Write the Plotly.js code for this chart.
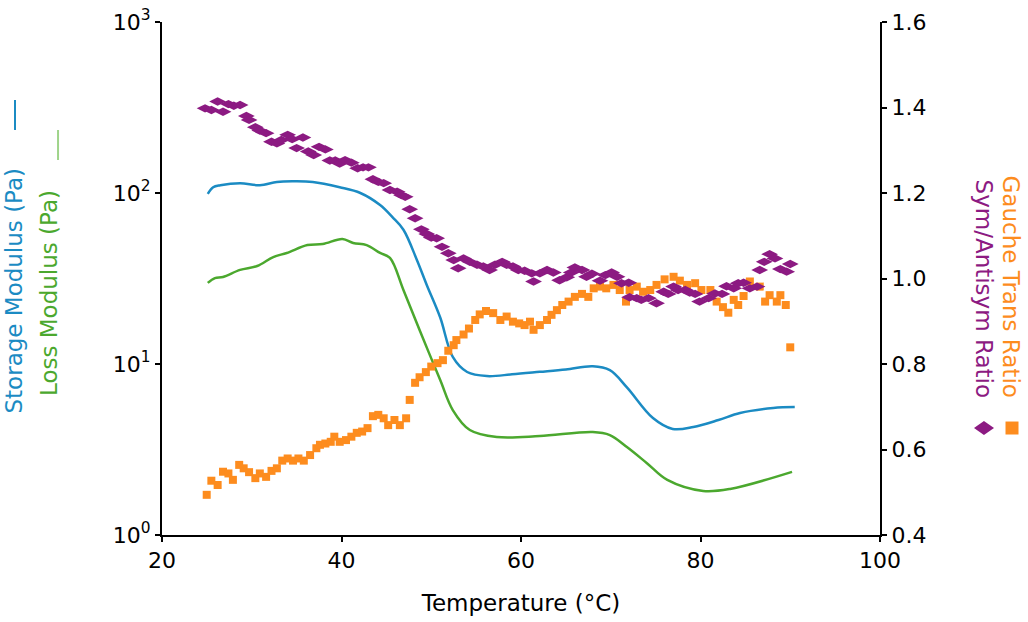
<!DOCTYPE html>
<html>
<head>
<meta charset="utf-8">
<script src="https://cdn.plot.ly/plotly-3.0.1.min.js"></script>
<style>html,body{margin:0;padding:0;background:#fff;}#chart{width:1028px;height:622px;}</style>
</head>
<body>
<div id="chart"></div>
<script>
// Storage modulus (Pa)
const storageT = [25.1,25.7,26.5,28.7,30.9,32.8,34.6,36.8,39.8,42.1,44.3,45.7,46.9,48.4,49.5,51.0,52.4,54.0,56.2,59.0,62.1,65.0,68.0,69.9,71.8,74.7,76.9,79.2,82.0,84.4,88.1,90.5];
const storageV = [98.7,108,111,114,111,116,117,116,108,100,85,72,61,40.6,29,18.7,11.0,8.98,8.5,8.7,9.0,9.3,9.7,9.2,7.3,4.83,4.17,4.28,4.7,5.17,5.53,5.6];
// Loss modulus (Pa)
const lossT = [25.1,25.9,26.8,28.7,30.6,32.4,33.9,36.2,37.9,40.1,41.3,42.8,44.3,45.4,46.9,48.7,51.0,52.4,54.3,57.3,62.1,68.0,69.9,71.8,74.0,76.3,80.3,83.3,90.2];
const lossV = [29.8,31.8,32.3,35.5,37.4,42.2,44.6,49.6,50.3,53.8,51.0,49.6,44.6,41.7,27.1,15.8,8.06,5.38,4.11,3.74,3.79,4.0,3.84,3.27,2.64,2.10,1.81,1.86,2.34];
// Gauche trans ratio
const gaucheT = [24.98,25.5,26.2,26.8,27.4,27.9,28.6,29.1,29.7,30.4,30.9,31.6,32.2,32.8,33.4,34.0,34.6,35.2,35.8,36.5,37.2,37.6,38.2,38.8,39.2,39.8,40.5,41.1,41.7,42.3,42.9,43.5,44.1,44.7,45.2,45.9,46.5,47.2,47.6,48.2,48.7,49.4,50.0,50.7,51.3,51.9,52.5,52.8,53.6,54.2,54.9,55.4,56.1,56.9,57.7,58.4,59.1,59.8,60.4,61.0,61.4,62.1,62.9,63.4,64.0,64.6,65.3,66.0,66.8,67.5,68.1,68.8,69.5,70.3,71.0,71.7,72.1,72.9,73.6,74.4,75.1,76.0,77.0,77.7,78.5,79.4,80.1,81.1,81.8,82.5,83.1,83.7,84.2,84.8,85.5,86.6,87.2,87.7,88.5,88.9,89.5,90.0];
const gaucheV = [0.494,0.527,0.517,0.548,0.544,0.529,0.564,0.556,0.547,0.533,0.544,0.536,0.550,0.556,0.574,0.579,0.574,0.579,0.574,0.587,0.603,0.611,0.614,0.618,0.630,0.618,0.622,0.630,0.639,0.642,0.650,0.678,0.681,0.673,0.657,0.669,0.657,0.673,0.716,0.756,0.769,0.781,0.794,0.802,0.809,0.831,0.844,0.856,0.869,0.883,0.903,0.916,0.924,0.919,0.903,0.911,0.899,0.895,0.891,0.899,0.880,0.891,0.903,0.915,0.926,0.938,0.946,0.957,0.964,0.957,0.977,0.981,0.977,0.985,0.973,0.946,0.973,0.981,0.969,0.973,0.985,0.998,1.004,0.995,0.985,0.989,0.973,0.973,0.946,0.933,0.920,0.950,0.938,0.959,0.993,0.981,0.946,0.961,0.946,0.961,0.938,0.839];
// Sym/Antisym ratio
const symT = [24.8,25.5,26.2,26.8,27.4,28.0,28.7,29.4,29.7,30.4,30.9,31.6,32.2,32.8,33.3,34.0,34.5,35.0,35.7,36.3,36.9,37.5,38.2,38.7,39.3,39.8,40.4,41.1,41.8,42.4,43.0,43.5,44.1,44.7,45.4,46.2,46.7,47.1,47.6,48.2,48.9,49.5,50.0,50.6,51.2,51.9,52.5,53.0,53.6,54.3,55.1,55.8,56.5,57.1,57.9,58.4,59.1,59.7,60.4,61.2,61.4,62.1,62.9,63.6,64.3,65.1,65.6,66.0,66.8,67.3,67.9,68.8,69.4,70.1,70.7,71.2,72.0,72.1,72.9,73.4,74.2,75.1,75.9,76.4,77.0,77.5,78.3,78.8,79.4,79.9,80.9,81.6,82.4,82.9,83.7,84.2,84.8,85.5,86.3,86.6,87.1,87.7,88.3,88.9,89.6,90.0];
const symV = [1.398,1.394,1.414,1.390,1.408,1.404,1.406,1.380,1.371,1.354,1.346,1.340,1.320,1.316,1.324,1.336,1.326,1.305,1.330,1.297,1.289,1.308,1.302,1.276,1.276,1.269,1.277,1.271,1.258,1.260,1.260,1.232,1.226,1.223,1.207,1.203,1.195,1.191,1.162,1.141,1.115,1.104,1.096,1.094,1.074,1.059,1.043,1.024,1.047,1.039,1.032,1.028,1.020,1.032,1.039,1.032,1.028,1.020,1.018,1.012,0.993,1.012,1.020,1.014,0.996,1.003,1.014,1.026,1.020,1.004,1.011,0.995,1.008,1.014,1.004,0.989,0.990,0.956,0.954,0.950,0.954,0.942,0.969,0.964,0.981,0.973,0.973,0.967,0.964,0.946,0.954,0.965,0.964,0.982,0.977,0.989,0.990,0.977,0.981,1.020,1.039,1.057,1.047,1.022,1.016,1.034];

const xTicks = [20,40,60,80,100];
const yLeftTicks = [1,10,100,1000];
const yLeftLabels = ['10<sup>0</sup>','10<sup>1</sup>','10<sup>2</sup>','10<sup>3</sup>'];
const yRightTicks = [0.4,0.6,0.8,1.0,1.2,1.4,1.6];

const BLUE = '#1b8bc3', GREEN = '#4ba82e', LGREEN = '#9fd48a', PURPLE = '#8c1a82', ORANGE = '#fd8c1e';
const FONT = 'DejaVu Sans, Arial, sans-serif';

const traces = [
  {x: gaucheT, y: gaucheV, yaxis: 'y2', mode: 'markers', type: 'scatter',
   marker: {symbol: 'square', size: 8, color: ORANGE}},
  {x: symT, y: symV, yaxis: 'y2', mode: 'markers', type: 'scatter',
   marker: {symbol: 'diamond-wide', size: 12, color: PURPLE}},
  {x: storageT, y: storageV, mode: 'lines', type: 'scatter',
   line: {color: BLUE, width: 2.5, shape: 'spline', smoothing: 1}},
  {x: lossT, y: lossV, mode: 'lines', type: 'scatter',
   line: {color: GREEN, width: 2.5, shape: 'spline', smoothing: 1}}
];

const axCommon = {showgrid: false, zeroline: false, showline: true, linecolor: '#000', linewidth: 2,
  ticks: 'outside', ticklen: 5, tickwidth: 2, tickcolor: '#000',
  tickfont: {family: FONT, size: 22, color: '#000'}};

const layout = {
  width: 1028, height: 622,
  margin: {l: 162, r: 148, t: 22, b: 87},
  paper_bgcolor: '#fff', plot_bgcolor: '#fff',
  showlegend: false,
  font: {family: FONT},
  xaxis: Object.assign({}, axCommon, {range: [20,100], tickvals: xTicks,
    title: {text: 'Temperature (°C)', font: {family: FONT, size: 23, color: '#000'}, standoff: 22}}),
  yaxis: Object.assign({}, axCommon, {type: 'log', range: [0,3], tickvals: yLeftTicks, ticktext: yLeftLabels}),
  yaxis2: Object.assign({}, axCommon, {overlaying: 'y', side: 'right', anchor: 'x', range: [0.4,1.6],
    tickvals: yRightTicks, tickformat: '.1f'}),
  annotations: [
    {xref: 'paper', yref: 'paper', x: -0.2075, y: 0.4766, text: 'Storage Modulus (Pa)', textangle: -90,
     showarrow: false, xanchor: 'center', yanchor: 'middle', font: {family: FONT, size: 23, color: BLUE}},
    {xref: 'paper', yref: 'paper', x: -0.1574, y: 0.4717, text: 'Loss Modulus (Pa)', textangle: -90,
     showarrow: false, xanchor: 'center', yanchor: 'middle', font: {family: FONT, size: 23, color: GREEN}},
    {xref: 'paper', yref: 'paper', x: 1.1838, y: 0.4844, text: 'Gauche Trans Ratio', textangle: 90,
     showarrow: false, xanchor: 'center', yanchor: 'middle', font: {family: FONT, size: 23, color: ORANGE}},
    {xref: 'paper', yref: 'paper', x: 1.1462, y: 0.4805, text: 'Sym/Antisym Ratio', textangle: 90,
     showarrow: false, xanchor: 'center', yanchor: 'middle', font: {family: FONT, size: 23, color: PURPLE}}
  ],
  shapes: [
    {type: 'line', xref: 'paper', yref: 'paper', x0: -0.2047, x1: -0.2047, y0: 0.848, y1: 0.7895,
     line: {color: BLUE, width: 2}},
    {type: 'line', xref: 'paper', yref: 'paper', x0: -0.1448, x1: -0.1448, y0: 0.7895, y1: 0.731,
     line: {color: LGREEN, width: 2}},
    {type: 'path', xref: 'paper', yref: 'paper',
     path: 'M 1.1309 0.2086 L 1.1448 0.2222 L 1.1588 0.2086 L 1.1448 0.1950 Z',
     fillcolor: PURPLE, line: {width: 0}},
    {type: 'rect', xref: 'paper', yref: 'paper', x0: 1.1748, x1: 1.1929, y0: 0.1959, y1: 0.2212,
     fillcolor: ORANGE, line: {width: 0}}
  ]
};

Plotly.newPlot('chart', traces, layout, {displayModeBar: false, staticPlot: true});
</script>
</body>
</html>
